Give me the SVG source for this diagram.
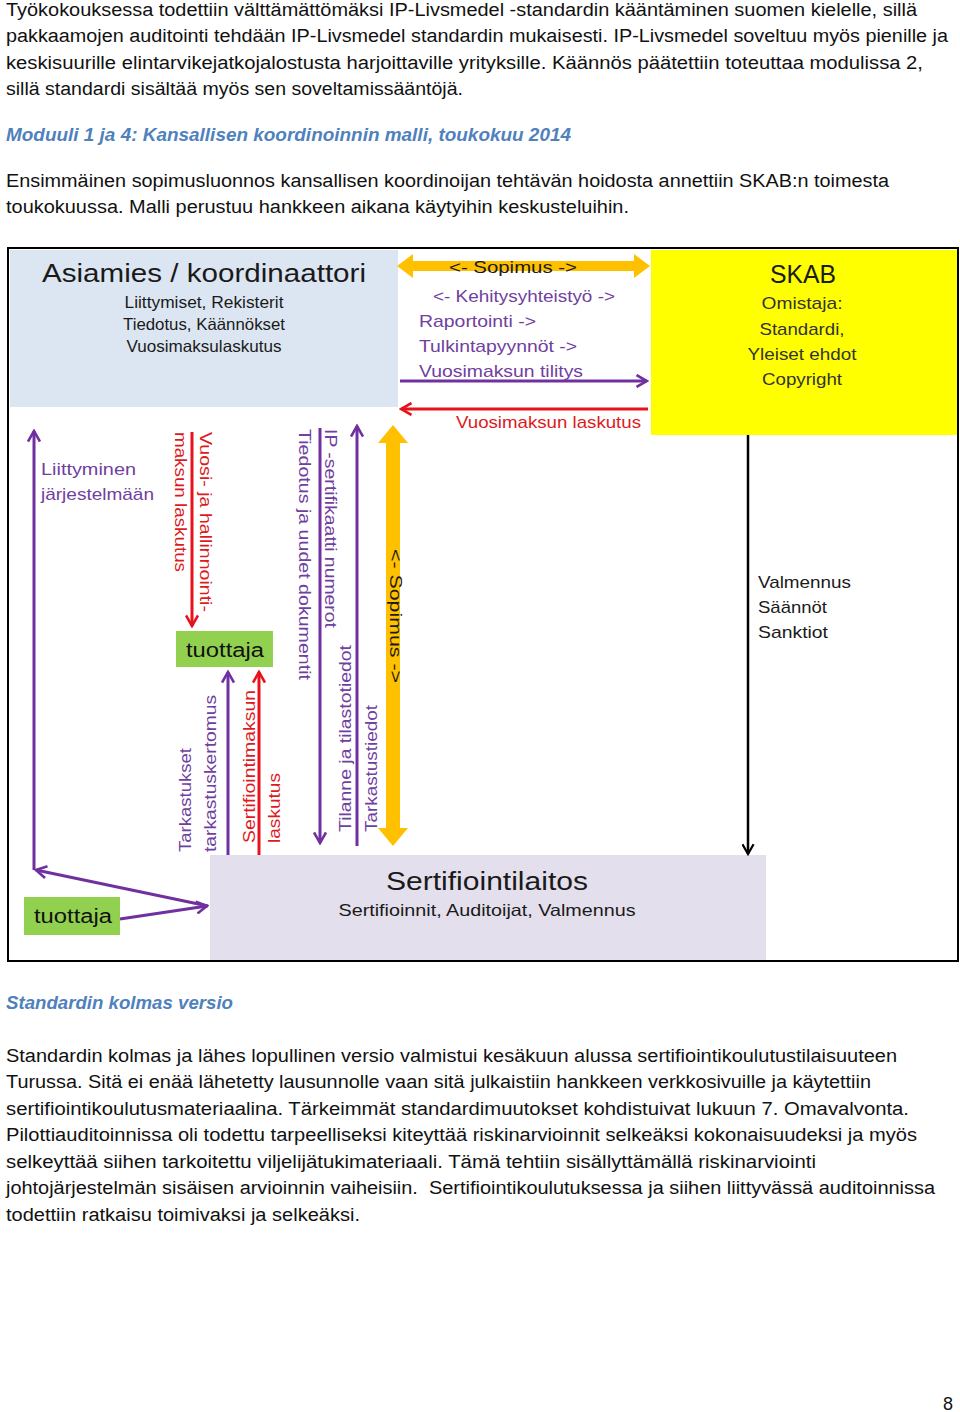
<svg xmlns="http://www.w3.org/2000/svg" width="960" height="1412" viewBox="0 0 960 1412">
<style>
text{font-family:"Liberation Sans",Arial,sans-serif;}
.p{font-size:18px;fill:#111;}
.h{font-size:18px;font-weight:bold;font-style:italic;fill:#4f81bd;}
.t1{font-size:26px;fill:#1a1a1a;}
.t2{font-size:16.5px;fill:#1a1a1a;}
.lbl{font-size:17px;}
.pu{fill:#7040a0;}
.rd{fill:#dd1a22;}
.bk{fill:#1a1a1a;}
.sk{fill:#333;}
.tu{font-size:20px;fill:#111;}
.lp{stroke:#7030a0;stroke-width:3;fill:none;}
.lr{stroke:#e8121c;stroke-width:3;fill:none;}
.lb{stroke:#000;stroke-width:2.5;fill:none;}
.or{fill:#ffc000;}
</style>
<defs>
<marker id="ap" viewBox="0 0 14 14" refX="12" refY="7" markerWidth="14" markerHeight="14" markerUnits="userSpaceOnUse" orient="auto"><path d="M1.5,1 L12,7 L1.5,13" fill="none" stroke="#7030a0" stroke-width="2.6"/></marker>
<marker id="ar" viewBox="0 0 14 14" refX="12" refY="7" markerWidth="14" markerHeight="14" markerUnits="userSpaceOnUse" orient="auto"><path d="M1.5,1 L12,7 L1.5,13" fill="none" stroke="#e8121c" stroke-width="2.6"/></marker>
<marker id="ab" viewBox="0 0 14 14" refX="12" refY="7" markerWidth="13" markerHeight="13" markerUnits="userSpaceOnUse" orient="auto"><path d="M1.5,1 L12,7 L1.5,13" fill="none" stroke="#000" stroke-width="2.4"/></marker>
</defs>
<rect width="960" height="1412" fill="#fff"/>

<g id="intro">
<text class="p" x="6" y="16" textLength="911" lengthAdjust="spacingAndGlyphs">Työkokouksessa todettiin välttämättömäksi IP-Livsmedel -standardin kääntäminen suomen kielelle, sillä</text>
<text class="p" x="6" y="42" textLength="942" lengthAdjust="spacingAndGlyphs">pakkaamojen auditointi tehdään IP-Livsmedel standardin mukaisesti. IP-Livsmedel soveltuu myös pienille ja</text>
<text class="p" x="6" y="69" textLength="917" lengthAdjust="spacingAndGlyphs">keskisuurille elintarvikejatkojalostusta harjoittaville yrityksille. Käännös päätettiin toteuttaa modulissa 2,</text>
<text class="p" x="6" y="95" textLength="457" lengthAdjust="spacingAndGlyphs">sillä standardi sisältää myös sen soveltamissääntöjä.</text>
<text class="h" x="6" y="141" textLength="565" lengthAdjust="spacingAndGlyphs">Moduuli 1 ja 4: Kansallisen koordinoinnin malli, toukokuu 2014</text>
<text class="p" x="6" y="187" textLength="883" lengthAdjust="spacingAndGlyphs">Ensimmäinen sopimusluonnos kansallisen koordinoijan tehtävän hoidosta annettiin SKAB:n toimesta</text>
<text class="p" x="6" y="213" textLength="623" lengthAdjust="spacingAndGlyphs">toukokuussa. Malli perustuu hankkeen aikana käytyihin keskusteluihin.</text>
</g>

<g id="frame">
<rect x="8" y="248" width="950" height="713" fill="#fff" stroke="#000" stroke-width="2"/>
</g>

<g id="asiamies">
<rect x="10" y="250" width="388" height="157" fill="#dce6f2"/>
<text class="t1" x="204" y="282" text-anchor="middle" textLength="324" lengthAdjust="spacingAndGlyphs">Asiamies / koordinaattori</text>
<text class="t2" x="204" y="308" text-anchor="middle" textLength="159" lengthAdjust="spacingAndGlyphs">Liittymiset, Rekisterit</text>
<text class="t2" x="204" y="330" text-anchor="middle" textLength="162" lengthAdjust="spacingAndGlyphs">Tiedotus, Käännökset</text>
<text class="t2" x="204" y="352" text-anchor="middle" textLength="155" lengthAdjust="spacingAndGlyphs">Vuosimaksulaskutus</text>
</g>

<g id="skab">
<rect x="651" y="250" width="306" height="185" fill="#ffff00"/>
<text class="t1" x="803" y="283" text-anchor="middle" textLength="66" lengthAdjust="spacingAndGlyphs">SKAB</text>
<text class="lbl sk" x="802" y="309" text-anchor="middle" textLength="81" lengthAdjust="spacingAndGlyphs">Omistaja:</text>
<text class="lbl sk" x="802" y="335" text-anchor="middle" textLength="85" lengthAdjust="spacingAndGlyphs">Standardi,</text>
<text class="lbl sk" x="802" y="360" text-anchor="middle" textLength="109" lengthAdjust="spacingAndGlyphs">Yleiset ehdot</text>
<text class="lbl sk" x="802" y="385" text-anchor="middle" textLength="80" lengthAdjust="spacingAndGlyphs">Copyright</text>
</g>

<g id="sertifiointilaitos">
<rect x="210" y="855" width="556" height="105" fill="#e4dfec"/>
<text class="t1" x="487" y="890" text-anchor="middle" textLength="202" lengthAdjust="spacingAndGlyphs">Sertifiointilaitos</text>
<text class="t2" x="487" y="916" text-anchor="middle" textLength="297" lengthAdjust="spacingAndGlyphs">Sertifioinnit, Auditoijat, Valmennus</text>
</g>

<g id="tuottaja1">
<rect x="176" y="631" width="97" height="36" fill="#92d050"/>
<text class="tu" x="225" y="657" text-anchor="middle" textLength="78" lengthAdjust="spacingAndGlyphs">tuottaja</text>
</g>

<g id="tuottaja2">
<rect x="24" y="897" width="96" height="38" fill="#92d050"/>
<text class="tu" x="73" y="923" text-anchor="middle" textLength="78" lengthAdjust="spacingAndGlyphs">tuottaja</text>
</g>

<g id="connectors">
<polygon class="or" points="397,266 413,254 413,261 634,261 634,254 650,266 634,278 634,271 413,271 413,278"/>
<polygon class="or" points="393,425 408,443 400,443 400,828 408,828 393,846 378,828 386,828 386,443 378,443"/>
<line class="lp" x1="400" y1="381" x2="647" y2="381" marker-end="url(#ap)"/>
<line class="lr" x1="648" y1="409" x2="401" y2="409" marker-end="url(#ar)"/>
<line class="lp" x1="34" y1="870" x2="34" y2="431" marker-end="url(#ap)"/>
<line class="lp" x1="208" y1="906" x2="36" y2="870" marker-end="url(#ap)"/>
<line class="lp" x1="120" y1="919" x2="207" y2="906" marker-end="url(#ap)"/>
<line class="lr" x1="192" y1="432" x2="192" y2="626" marker-end="url(#ar)"/>
<line class="lp" x1="228" y1="855" x2="228" y2="672" marker-end="url(#ap)"/>
<line class="lr" x1="259" y1="855" x2="259" y2="672" marker-end="url(#ar)"/>
<line class="lp" x1="320" y1="428" x2="320" y2="843" marker-end="url(#ap)"/>
<line class="lp" x1="357" y1="846" x2="357" y2="426" marker-end="url(#ap)"/>
<line class="lb" x1="748" y1="435" x2="748" y2="854" marker-end="url(#ab)"/>

<text class="lbl bk" x="513" y="273" text-anchor="middle" textLength="128" lengthAdjust="spacingAndGlyphs">&lt;- Sopimus -&gt;</text>
<text class="lbl pu" x="433" y="302" textLength="182" lengthAdjust="spacingAndGlyphs">&lt;- Kehitysyhteistyö -&gt;</text>
<text class="lbl pu" x="419" y="327" textLength="117" lengthAdjust="spacingAndGlyphs">Raportointi -&gt;</text>
<text class="lbl pu" x="419" y="352" textLength="158" lengthAdjust="spacingAndGlyphs">Tulkintapyynnöt -&gt;</text>
<text class="lbl pu" x="419" y="377" textLength="164" lengthAdjust="spacingAndGlyphs">Vuosimaksun tilitys</text>
<text class="lbl rd" x="456" y="428" textLength="185" lengthAdjust="spacingAndGlyphs">Vuosimaksun laskutus</text>
<text class="lbl pu" x="41" y="475" textLength="95" lengthAdjust="spacingAndGlyphs">Liittyminen</text>
<text class="lbl pu" x="41" y="500" textLength="113" lengthAdjust="spacingAndGlyphs">järjestelmään</text>
<text class="lbl bk" x="758" y="588" textLength="93" lengthAdjust="spacingAndGlyphs">Valmennus</text>
<text class="lbl bk" x="758" y="613" textLength="69" lengthAdjust="spacingAndGlyphs">Säännöt</text>
<text class="lbl bk" x="758" y="638" textLength="70" lengthAdjust="spacingAndGlyphs">Sanktiot</text>

<text class="lbl rd" transform="translate(200,432) rotate(90)" textLength="180" lengthAdjust="spacingAndGlyphs">Vuosi- ja hallinnointi-</text>
<text class="lbl rd" transform="translate(175,432) rotate(90)" textLength="140" lengthAdjust="spacingAndGlyphs">maksun laskutus</text>
<text class="lbl pu" transform="translate(325,429) rotate(90)" textLength="199" lengthAdjust="spacingAndGlyphs">IP -sertifikaatti numerot</text>
<text class="lbl pu" transform="translate(299,429) rotate(90)" textLength="251" lengthAdjust="spacingAndGlyphs">Tiedotus ja uudet dokumentit</text>
<text class="lbl bk" transform="translate(390,549) rotate(90)" textLength="134" lengthAdjust="spacingAndGlyphs">&lt;- Sopimus -&gt;</text>
<text class="lbl pu" transform="translate(191,852) rotate(-90)" textLength="104" lengthAdjust="spacingAndGlyphs">Tarkastukset</text>
<text class="lbl pu" transform="translate(216,852) rotate(-90)" textLength="157" lengthAdjust="spacingAndGlyphs">tarkastuskertomus</text>
<text class="lbl rd" transform="translate(255,843) rotate(-90)" textLength="153" lengthAdjust="spacingAndGlyphs">Sertifiointimaksun</text>
<text class="lbl rd" transform="translate(280,843) rotate(-90)" textLength="70" lengthAdjust="spacingAndGlyphs">laskutus</text>
<text class="lbl pu" transform="translate(351,832) rotate(-90)" textLength="187" lengthAdjust="spacingAndGlyphs">Tilanne ja tilastotiedot</text>
<text class="lbl pu" transform="translate(377,832) rotate(-90)" textLength="127" lengthAdjust="spacingAndGlyphs">Tarkastustiedot</text>
</g>

<g id="outro">
<text class="h" x="6" y="1009" textLength="227" lengthAdjust="spacingAndGlyphs">Standardin kolmas versio</text>
<text class="p" x="6" y="1062" textLength="891" lengthAdjust="spacingAndGlyphs">Standardin kolmas ja lähes lopullinen versio valmistui kesäkuun alussa sertifiointikoulutustilaisuuteen</text>
<text class="p" x="6" y="1088" textLength="865" lengthAdjust="spacingAndGlyphs">Turussa. Sitä ei enää lähetetty lausunnolle vaan sitä julkaistiin hankkeen verkkosivuille ja käytettiin</text>
<text class="p" x="6" y="1115" textLength="903" lengthAdjust="spacingAndGlyphs">sertifiointikoulutusmateriaalina. Tärkeimmät standardimuutokset kohdistuivat lukuun 7. Omavalvonta.</text>
<text class="p" x="6" y="1141" textLength="911" lengthAdjust="spacingAndGlyphs">Pilottiauditoinnissa oli todettu tarpeelliseksi kiteyttää riskinarvioinnit selkeäksi kokonaisuudeksi ja myös</text>
<text class="p" x="6" y="1168" textLength="810" lengthAdjust="spacingAndGlyphs">selkeyttää siihen tarkoitettu viljelijätukimateriaali. Tämä tehtiin sisällyttämällä riskinarviointi</text>
<text class="p" x="6" y="1194" textLength="929" lengthAdjust="spacingAndGlyphs" xml:space="preserve">johtojärjestelmän sisäisen arvioinnin vaiheisiin.  Sertifiointikoulutuksessa ja siihen liittyvässä auditoinnissa</text>
<text class="p" x="6" y="1221" textLength="354" lengthAdjust="spacingAndGlyphs">todettiin ratkaisu toimivaksi ja selkeäksi.</text>
<text class="p" x="948" y="1410" text-anchor="middle">8</text>
</g>
</svg>
